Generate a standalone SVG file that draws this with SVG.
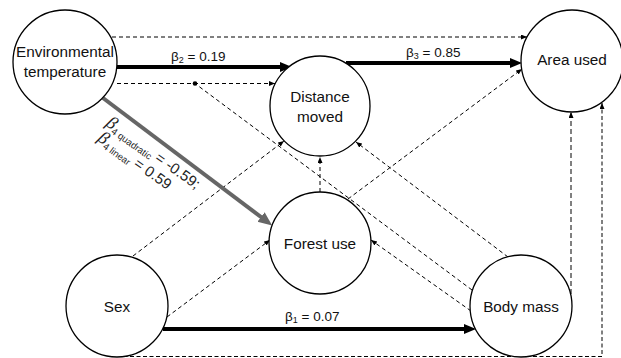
<svg xmlns="http://www.w3.org/2000/svg" width="621" height="358" viewBox="0 0 621 358">
<style>
.node circle{fill:#fff;stroke:#000;stroke-width:1.3}
.node text{font-family:"Liberation Sans",Arial,sans-serif;font-size:15.3px;fill:#111;text-anchor:middle}
.d{fill:none;stroke:#000;stroke-width:1;stroke-dasharray:4 3;marker-end:url(#ah)}
.thick{fill:none;stroke:#000;stroke-width:4;marker-end:url(#big)}
.lab{font-family:"Liberation Sans",Arial,sans-serif;font-size:13.5px;fill:#111}
.sub{font-size:9px}
</style>
<defs>
<marker id="ah" markerUnits="userSpaceOnUse" markerWidth="7" markerHeight="6" refX="6" refY="2.5" orient="auto"><path d="M0,0 L6,2.5 L0,5 z" fill="#000"/></marker>
<marker id="big" markerUnits="userSpaceOnUse" markerWidth="13" markerHeight="11" refX="4" refY="5" orient="auto"><path d="M0,0 L12,5 L0,10 z" fill="#000"/></marker>
<marker id="gbig" markerUnits="userSpaceOnUse" markerWidth="15" markerHeight="13" refX="5" refY="6" orient="auto"><path d="M0,0 L14,6 L0,12 z" fill="#666"/></marker>
<marker id="dot" markerUnits="userSpaceOnUse" markerWidth="6" markerHeight="6" refX="3" refY="3"><circle cx="3" cy="3" r="2.3" fill="#000"/></marker>
</defs>
<g id="connectors">
<path class="d" d="M112,37 L527,37"/>
<path class="d" d="M117,83.5 L275,83.5"/>
<path class="d" d="M472,290 L195,83.5" style="marker-end:url(#dot)"/>
<path class="d" d="M508,257 L356,142"/>
<path class="d" d="M471,311 L371,240"/>
<path class="d" d="M133,256 L284,141"/>
<path class="d" d="M167,317 L270,240"/>
<path class="d" d="M320,192 L320,157"/>
<path class="d" d="M348,199 L522,69"/>
<path class="d" d="M571,302 L571,112" style="stroke-dasharray:5 3"/>
<path class="d" d="M117,356.5 L602,356.5 L602,103" style="stroke-dasharray:4 2.5"/>
<path class="thick" d="M117,67 L284,67"/>
<path class="thick" d="M346,63 L514,63"/>
<path class="thick" d="M163,329 L468,329"/>
<path d="M103,98 L265,220" fill="none" stroke="#666" stroke-width="4" marker-end="url(#gbig)"/>
</g>
<g id="labels">
<text class="lab" x="171" y="61">β<tspan class="sub" dy="2">2</tspan><tspan dy="-2"> = 0.19</tspan></text>
<text class="lab" x="406" y="57">β<tspan class="sub" dy="2">3</tspan><tspan dy="-2"> = 0.85</tspan></text>
<text class="lab" x="285" y="321">β<tspan class="sub" dy="2">1</tspan><tspan dy="-2"> = 0.07</tspan></text>
<g transform="translate(105,125) rotate(35.5)" font-family="Liberation Sans,Arial,sans-serif" fill="#222">
<text x="0" y="0" font-size="15"><tspan font-family="Liberation Serif,serif" font-style="italic" font-size="18">β</tspan><tspan font-size="9.5" dy="3">4 quadratic</tspan><tspan dy="-3"> = -0.59;</tspan></text>
<text x="2" y="17" font-size="15"><tspan font-family="Liberation Serif,serif" font-style="italic" font-size="18">β</tspan><tspan font-size="9.5" dy="3">4 linear</tspan><tspan dy="-3"> = 0.59</tspan></text>
</g>
</g>
<g id="env" class="node"><circle cx="65" cy="62" r="52"/><text x="65" y="57">Environmental</text><text x="65" y="77">temperature</text></g>
<g id="distance" class="node"><circle cx="320" cy="106" r="50"/><text x="320" y="102">Distance</text><text x="320" y="122">moved</text></g>
<g id="area" class="node"><circle cx="572" cy="61" r="51"/><text x="572" y="65">Area used</text></g>
<g id="forest" class="node"><circle cx="320" cy="243" r="51"/><text x="320" y="249">Forest use</text></g>
<g id="sex" class="node"><circle cx="117" cy="306" r="51"/><text x="117" y="312">Sex</text></g>
<g id="body" class="node"><circle cx="521" cy="306" r="51"/><text x="521" y="312">Body mass</text></g>
</svg>
